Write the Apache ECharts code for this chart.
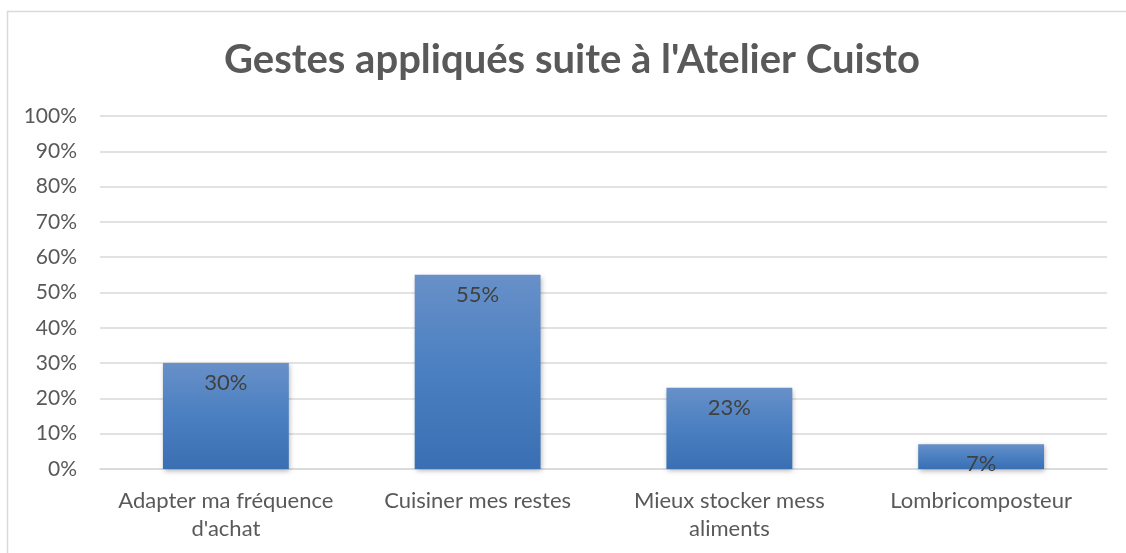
<!DOCTYPE html>
<html><head><meta charset="utf-8">
<script src="https://cdn.jsdelivr.net/npm/echarts@6/dist/echarts.min.js"></script>
<style>html,body{margin:0;padding:0;background:#fff}#c{width:1126px;height:553px}</style>
</head><body><div id="c"></div>
<script>
const categories = ["Adapter ma fréquence\nd'achat", "Cuisiner mes restes", "Mieux stocker mess\naliments", "Lombricomposteur"];
const values = [30, 55, 23, 7];
const titleText = "Gestes appliqués suite à l'Atelier Cuisto";
const chart = echarts.init(document.getElementById('c'));
chart.setOption({
  animation: false,
  backgroundColor: '#fff',
  graphic: [{type:'rect', shape:{x:7.5,y:11.5,width:1140,height:580}, style:{fill:'none',stroke:'#d9d9d9',lineWidth:1.5}, silent:true}],
  title: {text: titleText, left: 219, top: 35, textStyle:{fontFamily:'Lato', fontWeight:'bold', fontSize:40, color:'#595959'}},
  grid: {left: 100, right: 19, top: 116, bottom: 84},
  xAxis: {type:'category', data: categories,
    axisLine:{lineStyle:{color:'#d9d9d9', width:1.5}}, axisTick:{show:false},
    axisLabel:{fontFamily:'Lato', fontSize:22, color:'#595959', lineHeight:28, margin:18, interval:0}},
  yAxis: {type:'value', min:0, max:100, interval:10,
    axisLabel:{formatter:'{value}%', fontFamily:'Lato', fontSize:21, color:'#595959', margin:23},
    splitLine:{lineStyle:{color:'#d9d9d9', width:1.5}}, axisLine:{show:false}, axisTick:{show:false}},
  series: [{type:'bar', data: values, barWidth:'50%',
    itemStyle:{color: new echarts.graphic.LinearGradient(0,0,0,1,[{offset:0,color:'#6890c8'},{offset:0.5,color:'#4a7fc1'},{offset:1,color:'#3a6fb3'}]),
      shadowColor:'rgba(0,0,0,0.3)', shadowBlur:5, shadowOffsetX:1, shadowOffsetY:2},
    label:{show:true, position:'insideTop', distance:9, formatter:'{c}%', fontFamily:'Lato', fontSize:22, color:'#404040'}}]
});
</script></body></html>
